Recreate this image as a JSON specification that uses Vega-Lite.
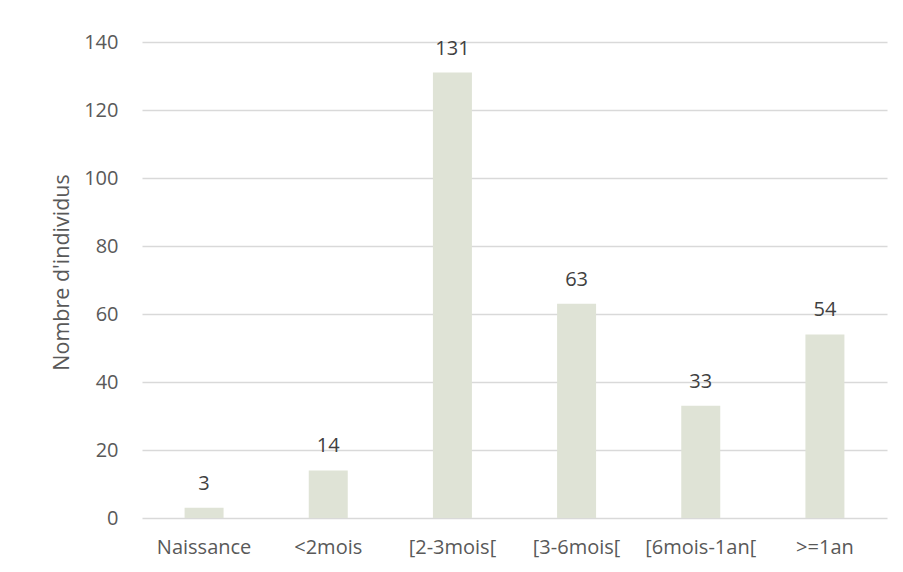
{
  "$schema": "https://vega.github.io/schema/vega-lite/v6.json",
  "width": 745,
  "height": 476,
  "autosize": {"type": "none"},
  "padding": {"left": 142, "top": 42, "right": 16, "bottom": 54},
  "background": "white",
  "config": {
    "view": {"stroke": null},
    "font": "Open Sans",
    "axis": {"labelFont": "Open Sans", "titleFont": "Open Sans"}
  },
  "data": {
    "values": [
      {"categorie": "Naissance", "n": 3},
      {"categorie": "<2mois", "n": 14},
      {"categorie": "[2-3mois[", "n": 131},
      {"categorie": "[3-6mois[", "n": 63},
      {"categorie": "[6mois-1an[", "n": 33},
      {"categorie": ">=1an", "n": 54}
    ]
  },
  "encoding": {
    "x": {
      "field": "categorie",
      "type": "nominal",
      "sort": null,
      "scale": {"paddingInner": 0.686, "paddingOuter": 0.343},
      "axis": {
        "title": null,
        "labelAngle": 0,
        "labelFontSize": 20,
        "labelColor": "#595959",
        "labelPadding": 19,
        "ticks": false,
        "domain": false
      }
    },
    "y": {
      "field": "n",
      "type": "quantitative",
      "scale": {"domain": [0, 140], "nice": false},
      "axis": {
        "title": "Nombre d'individus",
        "titleFontSize": 21.5,
        "titleFontWeight": "normal",
        "titleColor": "#595959",
        "titlePadding": 10,
        "titleY": 230,
        "values": [0, 20, 40, 60, 80, 100, 120, 140],
        "labelFontSize": 20,
        "labelColor": "#595959",
        "labelPadding": 24,
        "ticks": false,
        "domain": false,
        "gridColor": "#d9d9d9",
        "gridWidth": 1.3
      }
    }
  },
  "layer": [
    {"mark": {"type": "bar", "color": "#dfe3d6"}},
    {
      "mark": {"type": "text", "baseline": "alphabetic", "dy": -18, "fontSize": 20, "color": "#404040"},
      "encoding": {"text": {"field": "n", "type": "quantitative"}}
    }
  ]
}
